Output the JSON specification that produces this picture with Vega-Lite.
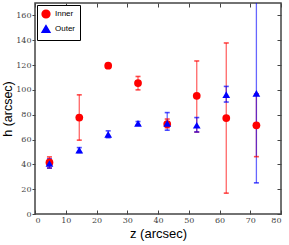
{
  "$schema": "https://vega.github.io/schema/vega-lite/v6.json",
  "autosize": "none",
  "padding": {"left": 35, "top": 3, "right": 8, "bottom": 31},
  "width": 246,
  "height": 211,
  "config": {
    "view": {"stroke": "#444", "strokeWidth": 1.5},
    "axis": {
      "grid": false,
      "domain": false,
      "tickColor": "#444",
      "tickSize": -4,
      "labelFont": "DejaVu Serif",
      "labelFontSize": 8,
      "labelColor": "#444",
      "titleFont": "Liberation Sans",
      "titleFontWeight": "normal",
      "titleFontSize": 13,
      "titleColor": "black"
    },
    "legend": {
      "orient": "top-left",
      "offset": 2,
      "strokeColor": "black",
      "fillColor": "white",
      "padding": 4,
      "labelFont": "Liberation Sans",
      "labelFontSize": 8,
      "symbolSize": 60,
      "symbolOpacity": 1,
      "rowPadding": 1,
      "cornerRadius": 0
    }
  },
  "resolve": {"axis": {"x": "independent", "y": "independent"}},
  "data": {
    "values": [
      {"group": "Inner", "z": 4.7, "h": 41.5, "lo": 37, "hi": 46},
      {"group": "Inner", "z": 14.4, "h": 77.7, "lo": 59.5, "hi": 96},
      {"group": "Inner", "z": 23.8, "h": 119.5, "lo": 118, "hi": 121},
      {"group": "Inner", "z": 33.5, "h": 105.5, "lo": 100, "hi": 110.8},
      {"group": "Inner", "z": 43.0, "h": 72.5, "lo": 69.5, "hi": 76.5},
      {"group": "Inner", "z": 52.6, "h": 95.2, "lo": 66, "hi": 123.3},
      {"group": "Inner", "z": 62.2, "h": 77.3, "lo": 16.8, "hi": 137.8},
      {"group": "Inner", "z": 72.0, "h": 71.5, "lo": 46.2, "hi": 96.8},
      {"group": "Outer", "z": 4.7, "h": 40.7, "lo": 37, "hi": 44.5},
      {"group": "Outer", "z": 14.4, "h": 51.5, "lo": 49.5, "hi": 53.5},
      {"group": "Outer", "z": 23.8, "h": 64.2, "lo": 61.5, "hi": 67},
      {"group": "Outer", "z": 33.5, "h": 73, "lo": 71.5, "hi": 74.5},
      {"group": "Outer", "z": 43.0, "h": 73, "lo": 67.5, "hi": 81.7},
      {"group": "Outer", "z": 52.6, "h": 71.5, "lo": 66.1, "hi": 77.7},
      {"group": "Outer", "z": 62.2, "h": 96.2, "lo": 90.2, "hi": 102.8},
      {"group": "Outer", "z": 72.0, "h": 97.2, "lo": 25.1, "hi": 175}
    ]
  },
  "encoding": {
    "color": {"field": "group", "type": "nominal",
      "scale": {"domain": ["Inner", "Outer"], "range": ["#ff0000", "#0000ff"]},
      "legend": {"title": null}}
  },
  "layer": [
    {
      "mark": {"type": "rule", "strokeWidth": 1.3, "strokeOpacity": 0.6, "clip": true},
      "encoding": {
        "x": {"field": "z", "type": "quantitative",
          "scale": {"domain": [0, 80], "nice": false},
          "axis": {"values": [0,10,20,30,40,50,60,70,80], "title": "z (arcsec)", "labelPadding": 6, "titlePadding": 3}},
        "y": {"field": "lo", "type": "quantitative", "scale": {"domain": [0, 170], "nice": false},
          "axis": {"values": [0,20,40,60,80,100,120,140,160], "title": "h (arcsec)", "titleFontSize": 12.5, "tickSize": 3, "labelPadding": 1, "titlePadding": 1}},
        "y2": {"field": "hi"}
      }
    },
    {
      "mark": {"type": "tick", "orient": "horizontal", "size": 5, "thickness": 1.6, "clip": true},
      "encoding": {"x": {"field": "z", "type": "quantitative", "axis": null}, "y": {"field": "lo", "type": "quantitative", "axis": null}}
    },
    {
      "mark": {"type": "tick", "orient": "horizontal", "size": 5, "thickness": 1.6, "clip": true},
      "encoding": {"x": {"field": "z", "type": "quantitative", "axis": null}, "y": {"field": "hi", "type": "quantitative", "axis": null}}
    },
    {
      "mark": {"type": "point", "filled": true, "opacity": 1, "size": 60},
      "encoding": {
        "x": {"field": "z", "type": "quantitative",
          "axis": {"orient": "top", "values": [0,10,20,30,40,50,60,70,80], "labels": false, "title": null}},
        "y": {"field": "h", "type": "quantitative",
          "axis": {"orient": "right", "values": [0,20,40,60,80,100,120,140,160], "labels": false, "title": null}},
        "shape": {"field": "group", "type": "nominal",
          "scale": {"domain": ["Inner", "Outer"], "range": ["circle", "triangle-up"]},
          "legend": {"title": null}}
      }
    }
  ]
}
